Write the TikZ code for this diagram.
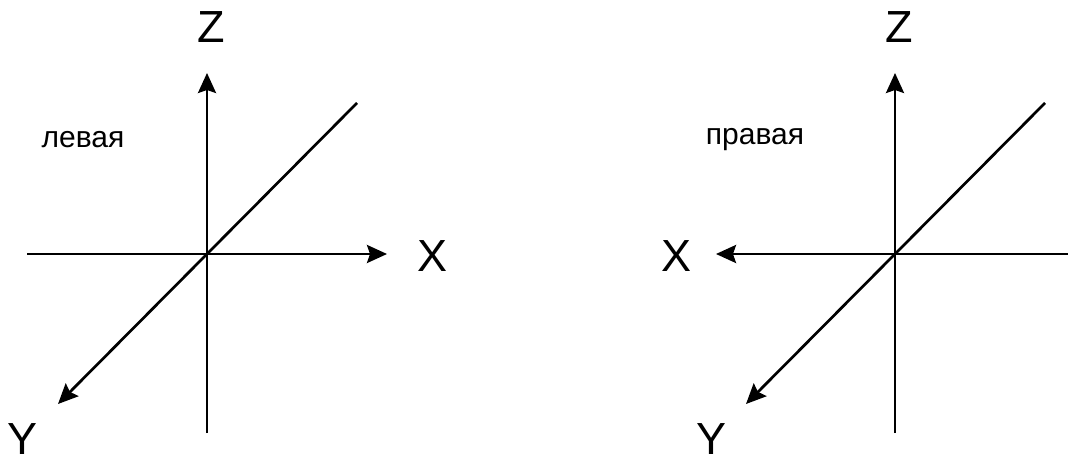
\documentclass[tikz,border=0pt]{standalone}
\usepackage{fontspec}
\setmainfont{Liberation Sans}
\usepackage{tikz}
\usetikzlibrary{arrows.meta}

\begin{document}
\begin{tikzpicture}[
    x=1pt, y=1pt,
    axis/.style={line width=2.7pt},
    axislabel/.style={font=\fontsize{45}{45}\selectfont, inner sep=0pt},
    handlabel/.style={font=\fontsize{30}{30}\selectfont, inner sep=0pt},
    >={Stealth[length=20pt, width=18pt, inset=3pt]}
]
\useasboundingbox (0,0) rectangle (1068,461);

% left-handed system
\coordinate (lo) at (207,207);
\coordinate (lzb) at (207,28);
\coordinate (lzt) at (207,388);
\coordinate (lxa) at (27,207);
\coordinate (lxb) at (387,207);
\coordinate (lya) at (357,358);
\coordinate (lyb) at (58,57);
\node[axislabel] (lz) at (211,434) {Z};
\node[axislabel] (lx) at (433,205) {X};
\node[axislabel] (ly) at (23,22) {Y};
\node[handlabel] (left) at (83,321) {левая};

\draw[axis, ->] (lzb) -- (lzt);
\draw[axis, ->] (lxa) -- (lxb);
\draw[axis, ->] (lya) -- (lyb);

% right-handed system
\coordinate (ro) at (895,207);
\coordinate (rzb) at (895,28);
\coordinate (rzt) at (895,388);
\coordinate (rxa) at (1068,207);
\coordinate (rxb) at (716,207);
\coordinate (rya) at (1045,358);
\coordinate (ryb) at (746,57);
\node[axislabel] (rz) at (899,434) {Z};
\node[axislabel] (rx) at (676,205) {X};
\node[axislabel] (ry) at (711,22) {Y};
\node[handlabel] (right) at (755,321) {правая};

\draw[axis, ->] (rzb) -- (rzt);
\draw[axis, ->] (rxa) -- (rxb);
\draw[axis, ->] (rya) -- (ryb);
\end{tikzpicture}
\end{document}
